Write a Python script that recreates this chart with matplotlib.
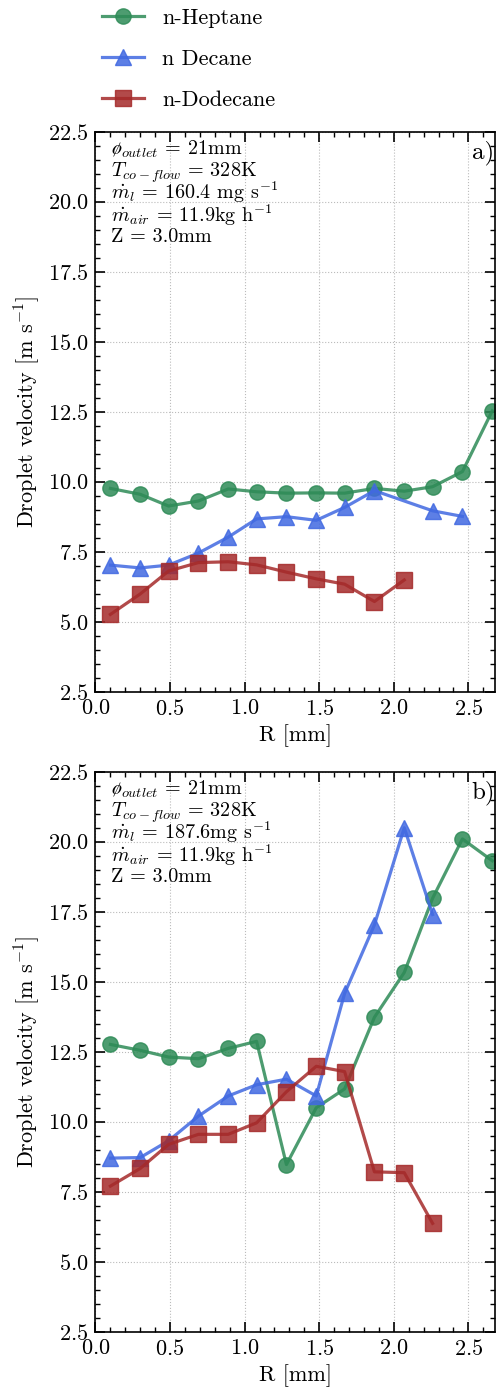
import numpy as np
import matplotlib
matplotlib.use("Agg")
import matplotlib.pyplot as plt
from matplotlib.ticker import MultipleLocator

plt.rcParams['font.family'] = 'serif'
plt.rcParams['font.serif'] = ['cmr10']
plt.rcParams['mathtext.fontset'] = 'cm'
plt.rcParams['axes.formatter.use_mathtext'] = True
plt.rcParams['font.size'] = 16

# Panel a) data
r_a = [0.10, 0.30, 0.49, 0.69, 0.89, 1.08, 1.28, 1.48, 1.67, 1.87, 2.07, 2.26, 2.46, 2.66]
heptane_a = [9.76, 9.55, 9.13, 9.31, 9.74, 9.64, 9.59, 9.60, 9.59, 9.76, 9.66, 9.82, 10.36, 12.53]
r_dec_a = [0.10, 0.30, 0.49, 0.69, 0.89, 1.08, 1.28, 1.48, 1.67, 1.87, 2.26, 2.46]
decane_a = [7.02, 6.92, 7.02, 7.45, 8.02, 8.67, 8.75, 8.62, 9.08, 9.68, 8.96, 8.76]
r_dod_a = [0.10, 0.30, 0.49, 0.69, 0.89, 1.08, 1.28, 1.48, 1.67, 1.87, 2.07]
dodecane_a = [5.26, 5.99, 6.81, 7.11, 7.14, 7.03, 6.77, 6.53, 6.34, 5.72, 6.49]

# Panel b) data
r_b = [0.10, 0.30, 0.49, 0.69, 0.89, 1.08, 1.28, 1.48, 1.67, 1.87, 2.07, 2.26, 2.46, 2.66]
heptane_b = [12.76, 12.55, 12.31, 12.25, 12.62, 12.87, 8.47, 10.50, 11.17, 13.73, 15.33, 17.98, 20.10, 19.32]
r_dec_b = [0.10, 0.30, 0.49, 0.69, 0.89, 1.08, 1.28, 1.48, 1.67, 1.87, 2.07, 2.26]
decane_b = [8.70, 8.72, 9.32, 10.20, 10.92, 11.32, 11.52, 10.92, 14.58, 17.03, 20.50, 17.40]
r_dod_b = [0.10, 0.30, 0.49, 0.69, 0.89, 1.08, 1.28, 1.48, 1.67, 1.87, 2.07, 2.26]
dodecane_b = [7.70, 8.33, 9.19, 9.55, 9.55, 9.96, 11.07, 11.98, 11.79, 8.21, 8.18, 6.37]

labels = ['n-Heptane', 'n Decane', 'n-Dodecane']
colors = ['#2e8b57', '#4169e1', '#a52a2a']
markers = ['o', '^', 's']

info_a = [r'$ø_{outlet}$ = 21mm',
          r'$T_{co-flow}$ = 328K',
          r'$\dot{m}_l$ = 160.4 mg s$^{-1}$',
          r'$\dot{m}_{air}$ = 11.9kg h$^{-1}$',
          'Z = 3.0mm']
info_b = [r'$ø_{outlet}$ = 21mm',
          r'$T_{co-flow}$ = 328K',
          r'$\dot{m}_l$ = 187.6mg s$^{-1}$',
          r'$\dot{m}_{air}$ = 11.9kg h$^{-1}$',
          'Z = 3.0mm']

fig = plt.figure(figsize=(4.96, 13.92), dpi=100)
ax1 = fig.add_axes([0.1925, 0.5031, 0.806, 0.4023])
ax2 = fig.add_axes([0.1925, 0.0433, 0.806, 0.4023])

panels = [
    (ax1, [(r_a, heptane_a), (r_dec_a, decane_a), (r_dod_a, dodecane_a)], info_a, 'a)'),
    (ax2, [(r_b, heptane_b), (r_dec_b, decane_b), (r_dod_b, dodecane_b)], info_b, 'b)'),
]

for ax, series, info, tag in panels:
    for (x, y), lab, c, m in zip(series, labels, colors, markers):
        ax.plot(x, y, color=c, marker=m, ms=11, lw=2.3, alpha=0.85, label=lab)
    ax.set_xlim(0, 2.68)
    ax.set_ylim(2.5, 22.5)
    ax.xaxis.set_major_locator(MultipleLocator(0.5))
    ax.xaxis.set_minor_locator(MultipleLocator(0.1))
    ax.yaxis.set_major_locator(MultipleLocator(2.5))
    ax.yaxis.set_minor_locator(MultipleLocator(0.5))
    ax.tick_params(which='both', direction='in', top=True, right=True, labelsize=16)
    ax.tick_params(which='major', length=7, width=1.2, pad=5)
    ax.tick_params(which='minor', length=3.5, width=1)
    ax.grid(True, which='major', ls=':', color='#bbbbbb', lw=0.8)
    for s in ax.spines.values():
        s.set_linewidth(1.2)
    ax.set_xlabel('R [mm]', fontsize=16, labelpad=4)
    ax.set_ylabel(r'Droplet velocity [m s$^{-1}$]', fontsize=16, labelpad=4)
    yy = [0.9596, 0.9196, 0.8798, 0.8393, 0.8025]
    for t, y0 in zip(info, yy):
        ax.text(0.04, y0, t, transform=ax.transAxes, va='baseline', ha='left', fontsize=14.5)
    ax.text(0.998, 0.953, tag, transform=ax.transAxes, va='baseline', ha='right', fontsize=18)

handles, labs = ax1.get_legend_handles_labels()
fig.legend(handles, labs, loc='upper left', bbox_to_anchor=(102 / 496, 1 - 8 / 1392),
           frameon=False, labelspacing=0.98, handlelength=1.9, handletextpad=0.8,
           borderpad=0, borderaxespad=0, fontsize=16)

fig.savefig('out.png', dpi=100)
